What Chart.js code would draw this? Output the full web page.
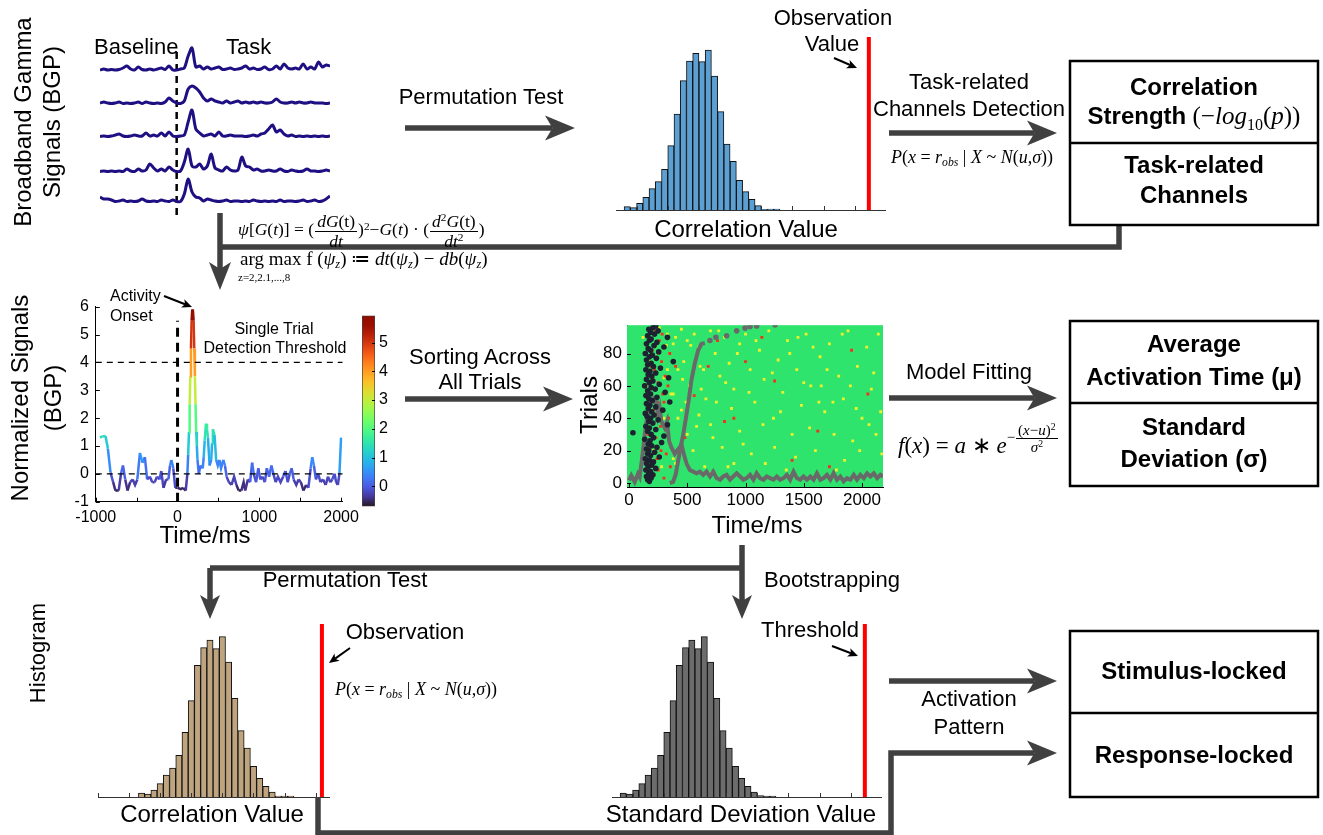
<!DOCTYPE html>
<html>
<head>
<meta charset="utf-8">
<script src="https://cdn.jsdelivr.net/npm/chart.js@4.4.1/dist/chart.umd.min.js"></script>
<style>
body { margin: 0; background: #fff; }
#page { position: relative; width: 1323px; height: 835px; overflow: hidden; font-family: 'Liberation Sans', Arial, sans-serif; color: #000; }
canvas { position: absolute; }
svg { position: absolute; left: 0; top: 0; }
.lbl { position: absolute; line-height: 1; white-space: nowrap; }
.rot { position: absolute; white-space: nowrap; text-align: center; transform: translate(-50%, -50%) rotate(-90deg); }
.math { position: absolute; white-space: nowrap; font-family: 'Liberation Serif', 'Times New Roman', serif; line-height: 1; }
.frac { display: inline-flex; flex-direction: column; vertical-align: middle; text-align: center; line-height: 1.08; margin: 0 1px; }
.frac > span:first-child { border-bottom: 1px solid #000; padding: 0 2px; }
.math sup { font-size: 0.65em; vertical-align: 0.5em; line-height: 0; }
.math sub { font-size: 0.65em; vertical-align: -0.25em; line-height: 0; }
</style>
</head>
<body>
<div id="page">
  <canvas id="cTraces" width="230" height="175" style="left:100px;top:40px"></canvas>
  <canvas id="cTopHist" width="270" height="174" style="left:616px;top:37px"></canvas>
  <canvas id="cNorm" width="320" height="234" style="left:45px;top:290px"></canvas>
  <canvas id="cBar" width="40" height="218" style="left:362px;top:302px"></canvas>
  <canvas id="cRaster" width="320" height="200" style="left:580px;top:310px"></canvas>
  <canvas id="cPerm" width="232" height="174" style="left:98px;top:624px"></canvas>
  <canvas id="cBoot" width="270" height="174" style="left:612px;top:624px"></canvas>
  <svg id="links" width="1323" height="835"></svg>

  <div class="math" style="left:238px;top:212px;font-size:17.5px"><i>ψ</i>[<i>G</i>(<i>t</i>)] = (<span class="frac"><span><i>dG</i>(t)</span><span><i>dt</i></span></span>)<sup>2</sup>−<i>G</i>(<i>t</i>) · (<span class="frac"><span><i>d</i><sup>2</sup><i>G</i>(t)</span><span><i>dt</i><sup>2</sup></span></span>)</div>
  <div class="math" style="left:240px;top:249px;font-size:19px">arg max f (<i>ψ<sub>z</sub></i>) ≔ <i>dt</i>(<i>ψ<sub>z</sub></i>) − <i>db</i>(<i>ψ<sub>z</sub></i>)</div>
  <div class="math" style="left:238px;top:272px;font-size:11px">z=2,2.1,...,8</div>
  <div class="math" style="left:972px;top:148px;font-size:18px;transform:translateX(-50%)"><i>P</i>(<i>x</i> = <i>r<sub>obs</sub></i> | <i>X</i> ~ <i>N</i>(<i>u</i>,<i>σ</i>))</div>
  <div class="math" style="left:416px;top:680px;font-size:18px;transform:translateX(-50%)"><i>P</i>(<i>x</i> = <i>r<sub>obs</sub></i> | <i>X</i> ~ <i>N</i>(<i>u</i>,<i>σ</i>))</div>
  <div class="math" style="left:898px;top:422px;font-size:23px"><i>f</i>(<i>x</i>) = <i>a</i> ∗ <i>e</i><span style="display:inline-block;vertical-align:0.7em;font-size:15px">−<span class="frac"><span>(<i>x</i>−<i>u</i>)<sup>2</sup></span><span><i>σ</i><sup>2</sup></span></span></span></div>
</div>

<script>
// ---- top-left: five single-trial BGP traces (amplitude, px-like units) ----
const traceTime = [-1000, -950, -900, -850, -800, -750, -700, -650, -600, -550,
  -500, -450, -400, -350, -300, -250, -200, -150, -100, -50,
  0, 50, 100, 150, 200, 250, 300, 350, 400, 450,
  500, 550, 600, 650, 700, 750, 800, 850, 900, 950,
  1000, 1050, 1100, 1150, 1200, 1250, 1300, 1350, 1400, 1450,
  1500, 1550, 1600, 1650, 1700, 1750, 1800, 1850, 1900, 1950, 2000];
const trace1 = [0, 1, 0, 0.5, 0, 0.5, 2, 4, 1, 0,
  3, 0.5, 0, 1, 0, 1, 2, 0.5, 4, 0,
  0, 1, 2, 14, 22, 3, 4, 1, 3, 1,
  2, 3, 0.5, 1, 2, 0.5, 1, 2, 4, 1,
  2, 0.5, 1, 3, 0.5, 1, 4, 1, 6, 2,
  1, 2, 1, 6, 1, 3, 1, 8, 3, 5, 4];
const trace2 = [1, 2, 1, 0.5, 1, 2, 0.5, 1, 0.5, 1,
  2, 0.5, 2, 1, 0.5, 1, 0.5, 2, 6, 3,
  1, 0.5, 3, 15, 18, 16, 12, 6, 3, 5,
  3, 2, 1, 3, 1, 2, 3, 1, 2, 1,
  2, 1, 2, 1, 1, 2, 5, 2, 1, 1,
  2, 1, 2, 1, 1, 2, 1, 1, 1, 0.5, 1];
const trace3 = [0.5, 1, 0.5, 1, 2, 3, 1, 0.5, 1, 2,
  1, 1, 4, 1, 2, 1, 4, 1, 5, 1,
  0.5, 1, 2, 15, 27, 8, 4, 1, 2, 3,
  1, 5, 1, 1, 2, 1, 1, 1, 0.5, 1,
  2, 1, 3, 4, 8, 12, 5, 7, 3, 1,
  2, 0.5, 1, 0.5, 1, 0.5, 1, 0.5, 1, 0.5, 1];
const trace4 = [0.5, 1, 0.5, 1, 0.5, 1, 0.5, 3, 1, 0.5,
  3, 1, 2, 8, 4, 1, 3, 1, 5, 2,
  0.5, 1, 10, 23, 6, 5, 8, 3, 6, 18,
  4, 2, 1, 5, 2, 1, 2, 15, 6, 5,
  2, 3, 1, 1, 2, 1, 1, 3, 1, 0.5,
  2, 1, 0.5, 1, 3, 1, 1, 0.5, 1, 2, 1];
const trace5 = [5, 3, 3, 2, 0.5, 1, 2, 0.5, 1, 0.5,
  1, 3, 1, 0.5, 1, 0.5, 2, 1, 0.5, 2,
  0.5, 0.5, 8, 23, 10, 5, 4, 1, 3, 2,
  1, 0.5, 1, 2, 0.5, 1, 1, 0.5, 1, 0.5,
  2, 1, 0.5, 1, 0.5, 1, 0.5, 2, 0.5, 1,
  1, 0.5, 1, 2, 0.5, 1, 2, 0.5, 1, 3, 6];

// ---- permutation / bootstrap null distributions (bin centre, count) ----
const topBins = [-0.03, -0.01, 0.01, 0.03, 0.05, 0.07, 0.09, 0.11, 0.13, 0.15, 0.17, 0.19, 0.21,
  0.23, 0.25, 0.27, 0.29, 0.31, 0.33, 0.35, 0.37, 0.39, 0.41, 0.43, 0.45];
const topCounts = [10, 7, 20, 38, 64, 85, 122, 193, 288, 388, 447, 470, 445,
  480, 402, 295, 198, 146, 89, 55, 32, 13, 2, 3, 3];
const topObserved = 0.745;

const permBins = [0.14, 0.16, 0.18, 0.20, 0.22, 0.24, 0.26, 0.28, 0.30, 0.32, 0.34, 0.36, 0.38,
  0.40, 0.42, 0.44, 0.46, 0.48, 0.50, 0.52, 0.54, 0.56, 0.58, 0.60, 0.62];
const permCounts = [12, 9, 21, 40, 66, 87, 125, 194, 289, 395, 448, 471, 445,
  481, 405, 296, 199, 147, 92, 56, 32, 15, 3, 3, 3];
const permObserved = 0.72;

const bootBins = [-0.03, -0.01, 0.01, 0.03, 0.05, 0.07, 0.09, 0.11, 0.13, 0.15, 0.17, 0.19, 0.21,
  0.23, 0.25, 0.27, 0.29, 0.31, 0.33, 0.35, 0.37, 0.39, 0.41, 0.43, 0.45];
const bootCounts = [12, 9, 21, 40, 66, 87, 125, 194, 289, 395, 448, 471, 445,
  481, 405, 296, 199, 147, 92, 56, 32, 15, 4, 3, 3];
const bootThreshold = 0.745;
const histTicks = [0, 0.1, 0.2, 0.3, 0.4, 0.5, 0.6, 0.7, 0.8];

// ---- normalized single-trial signal ----
const normTime = [-948, -920, -880, -852, -820, -788, -760, -720, -692, -668,
  -640, -612, -580, -548, -520, -492, -460, -428, -400, -372,
  -340, -308, -280, -252, -220, -200, -172, -140, -112, -92,
  -76, -52, -28, 0, 40, 68, 100, 120, 130, 140,
  148, 156, 164, 172, 180, 188, 196, 204, 212, 220,
  228, 236, 244, 260, 280, 308, 320, 332, 348, 360,
  372, 392, 412, 422, 432, 452, 472, 492, 512, 532,
  560, 580, 600, 628, 660, 692, 720, 748, 780, 808,
  828, 860, 888, 912, 932, 960, 988, 1012, 1040, 1068,
  1092, 1120, 1148, 1172, 1200, 1228, 1260, 1292, 1320, 1348,
  1372, 1396, 1420, 1452, 1480, 1508, 1540, 1572, 1600, 1628,
  1648, 1668, 1692, 1720, 1748, 1780, 1812, 1840, 1868, 1892,
  1920, 1940, 1960, 1980, 2000];
const normValue = [1.3, 1.35, 1.35, 0.9, 0.05, -0.3, -0.6, -0.6, 0.0, 0.3,
  -0.2, -0.6, -0.3, -0.2, -0.4, -0.2, 0.75, 0.4, 0.6, -0.2,
  -0.1, -0.3, -0.3, -0.1, -0.2, 0.1, -0.5, -0.2, -0.2, 0.3,
  0.5, 0.2, -0.5, -0.5, -0.55, -0.5, -0.6, 0.0, 0.7, 1.5,
  2.5, 3.5, 4.5, 5.5, 5.9, 5.8, 5.5, 4.5, 3.5, 2.5,
  1.5, 1.0, 0.5, 0.0, 0.3, 0.2, 0.6, 1.2, 1.8, 1.6,
  1.3, 0.3, 0.5, 1.1, 1.6, 1.4, 0.5, 0.3, 0.5, 0.2,
  0.5, 0.3, -0.1, -0.3, -0.4, -0.1, -0.4, -0.6, -0.6, -0.3,
  -0.6, -0.2, -0.3, 0.4, 0.0, -0.3, 0.2, -0.2, -0.1, -0.3,
  0.2, -0.1, 0.3, 0.0, -0.3, -0.1, -0.3, -0.1, 0.1, -0.3,
  0.0, 0.2, -0.2, -0.4, -0.2, -0.3, -0.6, -0.4, -0.5, 0.2,
  0.6, 0.3, -0.2, 0.0, -0.3, -0.2, -0.4, -0.1, -0.3, -0.2,
  0.0, -0.3, -0.4, 0.0, 1.3];
const normXTicks = [-1000, -500, 0, 500, 1000, 1500, 2000];
const normYTicks = [-1, 0, 1, 2, 3, 4, 5, 6];
const detectThreshold = 4;
const colorMin = -0.7, colorMax = 5.94;
const colorTicks = [0, 1, 2, 3, 4, 5];

// ---- trials sorted across time ----
const onsetMs = [175, 160, 190, 150, 205, 170, 185, 145, 230, 165,
  195, 150, 210, 175, 140, 260, 185, 160, 220, 170,
  150, 240, 195, 165, 280, 180, 135, 210, 300, 190,
  34, 160, 230, 175, 145, 330, 205, 170, 250, 185,
  155, 215, 140, 195, 290, 165, 230, 180, 150, 350,
  200, 170, 240, 145, 185, 310, 160, 225, 190, 135,
  260, 175, 205, 150, 340, 195, 165, 230, 180, 145,
  270, 210, 160, 190, 380, 150, 235, 175, 200, 140,
  255, 185, 165, 300, 215, 150, 240, 175, 190, 330,
  160, 220, 185, 250, 170, 205, 230];
const meanMs = [0, 20, 49, 77, 92, 120, 135, 155, 178, 207, 221, 235, 250, 264, 278, 307, 327, 344, 364, 393,
  413, 436, 450, 470, 494, 522, 551, 580, 608, 637, 666, 695, 723, 752, 781, 809, 838, 867, 895, 924,
  953, 982, 1010, 1039, 1068, 1096, 1125, 1154, 1182, 1211, 1240, 1269, 1297, 1326, 1355, 1383, 1412, 1441, 1469, 1498,
  1527, 1556, 1584, 1613, 1642, 1670, 1699, 1728, 1756, 1785, 1814, 1842, 1871, 1900, 1929, 1957, 1986, 2015, 2043, 2072,
  2101, 2130, 2158, 2180];
const meanVal = [1.6, 4.6, 0.6, 5.6, 3.6, 19.7, 30, 40, 50, 52, 50, 50, 42, 46, 38, 34, 38, 26, 22, 18,
  20, 22, 24, 18, 12, 8, 7, 6, 7, 5, 7, 4, 7, 3, 2, 4, 5, 2, 4, 6,
  4, 2, 3, 5, 2, 6, 3, 2, 4, 3, 2, 4, 2, 3, 5, 2, 7, 3, 2, 4,
  2, 4, 2, 6, 2, 3, 5, 2, 6, 2, 4, 1, 3, 2, 5, 2, 5, 3, 6, 4,
  6, 3, 5, 4];
const fitMs = [350, 379, 402, 422, 442, 465, 488, 514, 537, 565, 594, 623, 651];
const fitTrial = [0, 0.6, 5.6, 13.7, 21.7, 29.7, 39.8, 51.9, 63.9, 74, 82, 86, 86.4];
const fitTailMs = [695, 746, 838, 924, 996, 1039, 1096, 1254];
const fitTailTrial = [88, 90, 91, 94, 95.7, 96.7, 97, 97.7];
const hotMs = [160, 200, 250, 300, 180, 230, 270, 210, 300, 190, 250, 220, 280, 200, 260, 230, 320, 340, 310, 170,
  240, 290, 350, 180, 215, 900, 1250, 1910, 680, 480, 1000, 1400, 560, 760, 820, 400, 1620, 1140, 2050, 1720,
  165, 205, 245, 275, 195, 225, 335, 285, 355, 190];
const hotTrial = [5, 12, 8, 3, 22, 28, 35, 45, 50, 58, 62, 70, 75, 82, 88, 94, 18, 40, 66, 90,
  15, 55, 80, 38, 5, 40, 63, 82, 72, 28, 75, 14, 54, 88, 38, 72, 32, 90, 55, 10,
  30, 65, 50, 20, 95, 85, 60, 92, 10, 72];
const warmMs = [120, 260, 330, 380, 420, 450, 500, 520, 560, 600, 640, 700, 740, 780, 820, 860, 900, 950, 1000, 1040,
  1080, 1120, 1160, 1200, 1240, 1280, 1320, 1360, 1400, 1440, 1480, 1520, 1560, 1600, 1640, 1680, 1720, 1760, 1800, 1840,
  1880, 1920, 1960, 2000, 2040, 2080, 2120, 2160, 300, 350, 400, 450, 500, 550, 600, 650, 700, 750, 800, 850,
  950, 1050, 1150, 1250, 1350, 1450, 1550, 1650, 1750, 1850, 1950, 2100, 2170, 1100, 900, 700, 620, 460, 380, 330,
  150, 170, 210, 230, 250, 280, 300, 320, 340, 360, 380, 400, 420, 440, 470, 490, 530, 580, 610, 660,
  720, 770, 830, 880, 930, 980, 1030, 1090, 1170, 1230, 1300, 1380, 1430, 1500, 1580, 1630, 1700, 1780, 1830, 1900,
  1980, 2060, 2140];
const warmTrial = [90, 96, 92, 86, 70, 95, 88, 60, 92, 84, 70, 94, 80, 66, 90, 74, 58, 86, 92, 70,
  50, 82, 64, 94, 40, 76, 56, 88, 30, 70, 48, 92, 60, 20, 78, 44, 86, 30, 66, 52,
  94, 26, 72, 40, 84, 58, 30, 44, 40, 25, 12, 45, 30, 20, 42, 10, 36, 50, 22, 10,
  32, 18, 36, 22, 8, 90, 34, 60, 50, 14, 46, 68, 18, 6, 12, 6, 58, 64, 55, 70,
  60, 75, 20, 52, 80, 10, 65, 85, 30, 55, 15, 90, 40, 20, 75, 50, 85, 35, 72, 52,
  28, 94, 62, 46, 80, 24, 56, 88, 12, 68, 44, 80, 16, 62, 84, 50, 70, 8, 92, 60,
  20, 36, 92];
const rasterXTicks = [0, 500, 1000, 1500, 2000];
const rasterYTicks = [0, 20, 40, 60, 80];

// ---------------------------------------------------------------------------
const LINK = '#404040';
Chart.defaults.font.family = "'Liberation Sans', Arial, sans-serif";
Chart.defaults.color = '#000';
Chart.defaults.animation = false;
Chart.defaults.responsive = false;
Chart.defaults.devicePixelRatio = 1;
Chart.defaults.plugins.legend.display = false;
Chart.defaults.plugins.tooltip.enabled = false;

// MATLAB style ticks, drawn inside the axes
Chart.register({
  id: 'inTicks',
  afterDraw(chart, args, opts) {
    if (!opts.len) return;
    const ctx = chart.ctx;
    ctx.save();
    ctx.strokeStyle = opts.color || '#000';
    ctx.lineWidth = 1;
    Object.values(chart.scales).forEach(s => {
      if (!s.options.display) return;
      s.ticks.forEach(t => {
        const p = Math.round(s.getPixelForValue(t.value)) + 0.5;
        ctx.beginPath();
        if (s.isHorizontal()) { ctx.moveTo(p, s.top); ctx.lineTo(p, s.top - opts.len); }
        else if (s.position === 'left') { ctx.moveTo(s.right, p); ctx.lineTo(s.right + opts.len, p); }
        else { ctx.moveTo(s.left, p); ctx.lineTo(s.left - opts.len, p); }
        ctx.stroke();
      });
    });
    ctx.restore();
  }
});
Chart.register({
  id: 'areaFill',
  beforeDatasetsDraw(chart, args, opts) {
    if (!opts.color) return;
    const a = chart.chartArea;
    chart.ctx.save();
    chart.ctx.fillStyle = opts.color;
    chart.ctx.fillRect(a.left, a.top, a.width, a.height);
    chart.ctx.restore();
  }
});

function turbo(t) {
  t = Math.max(0, Math.min(1, t));
  const r = 0.13572138 + t * (4.61539260 + t * (-42.66032258 + t * (132.13108234 + t * (-152.94239396 + t * 59.28637943))));
  const g = 0.09140261 + t * (2.19418839 + t * (4.84296658 + t * (-14.18503333 + t * (4.27729857 + t * 2.82956604))));
  const b = 0.10667330 + t * (12.64194608 + t * (-60.58204836 + t * (110.36276771 + t * (-89.90310912 + t * 27.34824973))));
  const c = v => Math.round(255 * Math.max(0, Math.min(1, v)));
  return `rgb(${c(r)},${c(g)},${c(b)})`;
}
const zip = (xs, ys) => xs.map((x, i) => ({ x, y: ys[i] }));
const fixTicks = list => s => { s.ticks = list.map(v => ({ value: v })); };

// traces
const traceOffset = [132, 98, 65, 30, 0];
new Chart(document.getElementById('cTraces'), {
  type: 'line',
  data: {
    datasets: [trace1, trace2, trace3, trace4, trace5].map((tr, i) => ({
      data: zip(traceTime, tr.map(v => v + traceOffset[i])),
      borderColor: '#1e0f82', borderWidth: 3, pointRadius: 0, tension: 0.3, clip: 4
    })).concat([{
      data: [{ x: 0, y: -13 }, { x: 0, y: 154 }],
      borderColor: '#000', borderWidth: 2.5, borderDash: [7, 5], pointRadius: 0
    }])
  },
  options: {
    scales: {
      x: { type: 'linear', display: false, min: -1000, max: 2000 },
      y: { display: false, min: -13, max: 162 }
    }
  }
});

// histograms
const histTop = 519;
function histChart(id, bins, counts, color, xmin, xmax, markX) {
  return new Chart(document.getElementById(id), {
    type: 'bar',
    data: {
      datasets: [
        { type: 'line', data: [{ x: markX, y: 0 }, { x: markX, y: histTop }], borderColor: '#ff0000', borderWidth: 4, pointRadius: 0, order: 0 },
        { data: zip(bins, counts), backgroundColor: color, borderColor: '#111', borderWidth: 1,
          barPercentage: 1, categoryPercentage: 1, order: 1 }
      ]
    },
    options: {
      plugins: { inTicks: { len: 4, color: '#333' } },
      scales: {
        x: {
          type: 'linear', min: xmin, max: xmax, offset: false,
          grid: { display: false, drawTicks: false },
          ticks: { display: false },
          afterBuildTicks: fixTicks(histTicks.filter(v => v >= xmin && v <= xmax + 1e-9)),
          border: { color: '#333' },
          afterFit: s => { s.height = 1; }
        },
        y: { display: false, min: 0, max: histTop }
      }
    }
  });
}
histChart('cTopHist', topBins, topCounts, '#5b9fd3', -0.066, 0.8, topObserved);
histChart('cPerm', permBins, permCounts, '#bea47f', 0, 0.746, permObserved);
histChart('cBoot', bootBins, bootCounts, '#6c6c6c', -0.066, 0.8, bootThreshold);

// normalized signal coloured by amplitude
const tickFont = { size: 16 };
new Chart(document.getElementById('cNorm'), {
  type: 'line',
  data: {
    datasets: [
      { data: zip(normTime, normValue), borderWidth: 2.5, pointRadius: 0, borderColor: '#3a3f9f', order: 2,
        segment: { borderColor: c => turbo(((c.p0.parsed.y + c.p1.parsed.y) / 2 - colorMin) / (colorMax - colorMin)) } },
      { data: [{ x: -1000, y: detectThreshold }, { x: 2020, y: detectThreshold }], borderColor: '#000', borderWidth: 1.3, borderDash: [6, 5], pointRadius: 0, order: 1 },
      { data: [{ x: -1000, y: 0 }, { x: 2020, y: 0 }], borderColor: '#000', borderWidth: 1.3, borderDash: [6, 5], pointRadius: 0, order: 1 },
      { data: [{ x: 0, y: -1 }, { x: 0, y: 5.5 }], borderColor: '#000', borderWidth: 3, borderDash: [9, 6], pointRadius: 0, order: 0 }
    ]
  },
  options: {
    layout: { padding: { top: 16.7, right: 20 } },
    plugins: { inTicks: { len: 4 } },
    scales: {
      x: {
        type: 'linear', min: -1000, max: 2020,
        grid: { display: false, drawTicks: false }, border: { color: '#000' },
        afterBuildTicks: fixTicks(normXTicks),
        ticks: { autoSkip: false, maxRotation: 0, font: tickFont, padding: 6,
          callback: v => (v % 1000 === 0 ? String(v) : '') },
        afterFit: s => { s.height = 22.3; }
      },
      y: {
        min: -1, max: 6,
        grid: { display: false, drawTicks: false }, border: { color: '#000' },
        afterBuildTicks: fixTicks(normYTicks),
        ticks: { font: tickFont, padding: 7, callback: v => String(v) },
        afterFit: s => { s.width = 50.8; }
      }
    }
  }
});

// colour bar
new Chart(document.getElementById('cBar'), {
  type: 'bar',
  data: {
    labels: [''],
    datasets: [{
      data: [[colorMin, colorMax]], barPercentage: 1, categoryPercentage: 1,
      borderWidth: 1, borderColor: '#444', borderSkipped: false,
      backgroundColor: c => {
        const a = c.chart.chartArea;
        if (!a) return '#888';
        const g = c.chart.ctx.createLinearGradient(0, a.bottom, 0, a.top);
        for (let i = 0; i <= 20; i++) g.addColorStop(i / 20, turbo(i / 20));
        return g;
      }
    }]
  },
  options: {
    layout: { padding: { top: 10, bottom: 8 } },
    plugins: { inTicks: { len: 3 } },
    scales: {
      x: { display: false },
      y: {
        position: 'right', min: colorMin, max: colorMax,
        grid: { display: false, drawTicks: false }, border: { display: false },
        afterBuildTicks: fixTicks(colorTicks),
        ticks: { font: { size: 16 }, padding: 4, callback: v => String(v) },
        afterFit: s => { s.width = 27; }
      }
    }
  }
});

// sorted trials raster
const rasterFont = { size: 17 };
new Chart(document.getElementById('cRaster'), {
  type: 'scatter',
  data: {
    datasets: [
      { data: zip(warmMs, warmTrial), pointStyle: 'rect', pointRadius: 2, backgroundColor: '#eef02a', borderWidth: 0, order: 6 },
      { data: zip(hotMs, hotTrial), pointStyle: 'rect', pointRadius: 2, backgroundColor: '#f5301a', borderWidth: 0, order: 5 },
      { data: zip(meanMs, meanVal), showLine: true, borderColor: '#696969', borderWidth: 4, pointRadius: 0, order: 3 },
      { data: zip(fitMs, fitTrial), showLine: true, borderColor: '#696969', borderWidth: 4, pointRadius: 0, order: 2 },
      { data: zip(fitTailMs, fitTailTrial), pointRadius: 2.8, backgroundColor: '#696969', borderWidth: 0, order: 2 },
      { data: onsetMs.map((ms, i) => ({ x: ms, y: i + 1 })), pointRadius: 2.8, backgroundColor: '#1d2130', borderWidth: 0, order: 1 }
    ]
  },
  options: {
    layout: { padding: { top: 11, right: 17 } },
    plugins: { areaFill: { color: '#2fe46c' }, inTicks: { len: 4 } },
    scales: {
      x: {
        type: 'linear', min: -17, max: 2180,
        grid: { display: false, drawTicks: false }, border: { color: '#000' },
        afterBuildTicks: fixTicks(rasterXTicks),
        ticks: { autoSkip: false, maxRotation: 0, font: rasterFont, padding: 3, callback: v => String(v) },
        afterFit: s => { s.height = 23; }
      },
      y: {
        min: -2.5, max: 97.5,
        grid: { display: false, drawTicks: false }, border: { color: '#000' },
        afterBuildTicks: fixTicks(rasterYTicks),
        ticks: { font: rasterFont, padding: 5, callback: v => String(v) },
        afterFit: s => { s.width = 47; }
      }
    }
  }
});

// ---- text ----
const page = document.getElementById('page');
function txt(html, x, base, size, o = {}) {
  const d = document.createElement('div');
  d.className = 'lbl';
  d.innerHTML = html;
  d.style.fontSize = size + 'px';
  d.style.left = x + 'px';
  d.style.top = (base - 0.847 * size) + 'px';
  if (!o.left) d.style.transform = 'translateX(-50%)';
  if (o.bold) d.style.fontWeight = 'bold';
  page.appendChild(d);
}
function rot(html, cx, cy, size, lh) {
  const d = document.createElement('div');
  d.className = 'rot';
  d.innerHTML = html;
  d.style.fontSize = size + 'px';
  d.style.lineHeight = lh + 'px';
  d.style.left = cx + 'px';
  d.style.top = cy + 'px';
  page.appendChild(d);
}
rot('Broadband Gamma<br>Signals (BGP)', 37, 122, 24, 29);
rot('Normalized Signals<br>(BGP)', 36, 398, 24, 33);
rot('Histogram', 38, 653, 22, 24);
rot('Trials', 589, 405, 24, 26);

txt('Baseline', 94, 55, 22, { left: true });
txt('Task', 226, 55, 22, { left: true });
txt('Permutation Test', 481, 105, 22);
txt('Observation', 833, 26, 22);
txt('Value', 832, 52, 22);
txt('Correlation Value', 746, 237, 24);
txt('Task-related', 969, 90, 22);
txt('Channels Detection', 969, 117, 22);
txt('Correlation', 1194, 95, 24, { bold: true });
txt('Strength<span style="font-family:\'Liberation Serif\',serif;font-weight:normal;font-size:25px"> (−<i>log</i><sub style="font-size:16px">10</sub>(<i>p</i>))</span>', 1194, 123, 24, { bold: true });
txt('Task-related', 1194, 173, 24, { bold: true });
txt('Channels', 1194, 203, 24, { bold: true });

txt('Activity', 110, 302, 16, { left: true });
txt('Onset', 110, 322, 16, { left: true });
txt('Single Trial', 274, 335, 16);
txt('Detection Threshold', 275, 354, 16);
txt('Time/ms', 205, 543, 24);
txt('Sorting Across', 480, 365, 22);
txt('All Trials', 480, 390, 22);
txt('Time/ms', 757, 533, 24);
txt('Model Fitting', 969, 380, 22);
txt('Average', 1194, 352, 24, { bold: true });
txt('Activation Time (μ)', 1194, 385, 24, { bold: true });
txt('Standard', 1194, 435, 24, { bold: true });
txt('Deviation (σ)', 1194, 467, 24, { bold: true });

txt('Permutation Test', 345, 588, 22);
txt('Bootstrapping', 832, 588, 22);
txt('Observation', 405, 640, 22);
txt('Threshold', 810, 638, 22);
txt('Correlation Value', 212, 822, 24);
txt('Standard Deviation Value', 741, 822, 24);
txt('Activation', 969, 707, 22);
txt('Pattern', 969, 735, 22);
txt('Stimulus-locked', 1194, 679, 24, { bold: true });
txt('Response-locked', 1194, 763, 24, { bold: true });

// ---- connectors and boxes ----
const NS = 'http://www.w3.org/2000/svg';
const svg = document.getElementById('links');
function add(tag, attrs) {
  const e = document.createElementNS(NS, tag);
  for (const k in attrs) e.setAttribute(k, attrs[k]);
  svg.appendChild(e);
  return e;
}
function path(pts, w = 5.5, col = LINK) {
  add('polyline', { points: pts.map(p => p.join(',')).join(' '), fill: 'none', stroke: col, 'stroke-width': w });
}
function arrow(pts, L = 30, H = 12.5, w = 5.5, col = LINK) {
  const [x1, y1] = pts[pts.length - 2], [x2, y2] = pts[pts.length - 1];
  const a = Math.atan2(y2 - y1, x2 - x1), ca = Math.cos(a), sa = Math.sin(a);
  const back = L * 0.75;
  path(pts.slice(0, -1).concat([[x2 - ca * back, y2 - sa * back]]), w, col);
  const bx = x2 - ca * L, by = y2 - sa * L, nx = x2 - ca * back, ny = y2 - sa * back;
  add('polygon', { points: `${x2},${y2} ${bx - sa * H},${by + ca * H} ${nx},${ny} ${bx + sa * H},${by - ca * H}`, fill: col });
}
function box(x, y, w, h, split) {
  add('rect', { x, y, width: w, height: h, fill: 'none', stroke: '#000', 'stroke-width': 2.5 });
  add('line', { x1: x, y1: split, x2: x + w, y2: split, stroke: '#000', 'stroke-width': 2.5 });
}

arrow([[405, 128], [575, 128]]);
arrow([[889, 133], [1057, 133]]);
path([[1119, 225], [1119, 247], [220, 247]]);
arrow([[220, 213], [220, 290]], 28, 11);
arrow([[405, 399], [573, 399]]);
arrow([[889, 398], [1057, 398]]);
path([[742, 545], [742, 568]]);
path([[210, 568], [742, 568]]);
arrow([[210, 568], [210, 619]], 24, 10);
arrow([[742, 568], [742, 619]], 24, 10);
arrow([[889, 681], [1057, 681]]);
arrow([[318, 797], [318, 833], [891, 833], [891, 753], [1057, 753]]);

arrow([[834, 58], [857, 68]], 10, 4.5, 2, '#000');
arrow([[164, 296], [192, 307]], 10, 4.5, 2, '#000');
arrow([[350, 648], [329, 663]], 10, 4.5, 2, '#000');
arrow([[832, 646], [858, 656]], 10, 4.5, 2, '#000');

box(1070, 61, 248, 164, 143);
box(1070, 321, 248, 165, 403);
box(1070, 631, 248, 166, 713);
</script>
</body>
</html>
